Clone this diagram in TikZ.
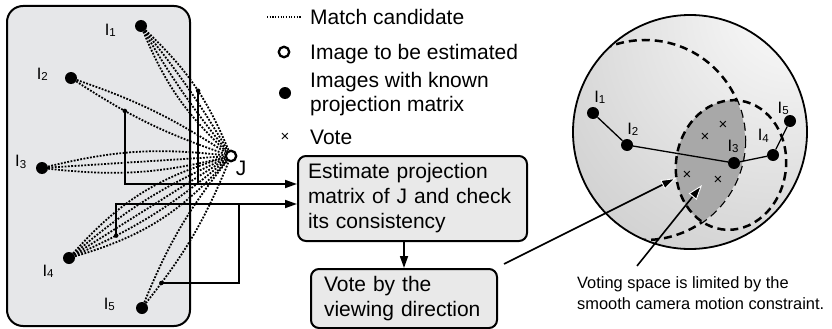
\documentclass[tikz,border=0pt]{standalone}
\usepackage{fontspec}
\setmainfont{Liberation Sans}
\usetikzlibrary{arrows.meta,calc,positioning}

\definecolor{panelgray}{RGB}{230,231,233}
\definecolor{boxgray}{RGB}{233,233,233}
\definecolor{lensgray}{RGB}{168,168,168}

% viewing sphere, lit from the upper right
\pgfdeclareradialshading{viewsphere}{\pgfpoint{26bp}{32bp}}{%
  color(0bp)=(white); color(16bp)=(black!6); color(40bp)=(black!15);
  color(65bp)=(black!24); color(92bp)=(black!34); color(100bp)=(black!37)}

% image name with its index
\newcommand\imgI[1]{I\raisebox{-1.2pt}{\fontsize{11.5}{11.5}\selectfont#1}}

\tikzset{
  txt/.style={font=\fontsize{21}{25}\selectfont, inner sep=0pt},
  lbl/.style={font=\fontsize{16.5}{18}\selectfont, inner sep=0pt},
  cam/.style={circle, fill=black, inner sep=0pt, minimum size=12pt},
  query/.style={circle, draw=black, line width=2.3pt, fill=white, inner sep=0pt, minimum size=10.5pt},
  tap/.style={circle, fill=black, inner sep=0pt, minimum size=4.5pt},
  vote/.style={font=\fontsize{15}{15}\selectfont, inner sep=0pt},
  cand/.style={line width=1.8pt, dash pattern=on 1.8pt off 1.5pt},
  link/.style={line width=1.7pt},
  flow/.style={link, -{Triangle[length=12pt,width=8pt]}},
  stepbox/.style={txt, draw, line width=2pt, fill=boxgray, rounded corners=8pt, align=left, anchor=north west},
  limit/.style={line width=2.5pt, dash pattern=on 8pt off 5pt},
  track/.style={line width=1.3pt},
  hit/.style={line width=1.6pt, -{Triangle[length=15pt,width=10pt,color=white,fill=black,line width=0.9pt]}},
}

\begin{document}
\begin{tikzpicture}[x=1pt,y=-1pt]
\useasboundingbox (0,0) rectangle (832,329);

% images in the database
\draw[line width=2pt, fill=panelgray, rounded corners=16pt] (7,6) rectangle (190,326);
\node[cam, label={[lbl,anchor=8,label distance=19pt]188:\imgI{1}}] (i1) at (141,26) {};
\node[cam, label={[lbl,anchor=-8,label distance=17pt]172:\imgI{2}}] (i2) at (71,78) {};
\node[cam, label={[lbl,anchor=-16,label distance=10pt]164:\imgI{3}}] (i3) at (42,168) {};
\node[cam, label={[lbl,anchor=33,label distance=12pt]213:\imgI{4}}] (i4) at (69,258) {};
\node[cam, label={[lbl,anchor=-7,label distance=21pt]173:\imgI{5}}] (i5) at (142,308) {};
\node[query, label={[txt,anchor=130,label distance=1pt]310:J}] (J) at (231,156) {};

% match candidates
\foreach \src/\b in {i1/4, i1/-4, i1/-12, i2/7, i3/10, i3/0, i3/-10, i4/16, i4/8, i4/0, i4/-16, i5/8}
  \draw[cand] (\src) to[bend left=\b] (J);
\draw[cand] (i1) to[bend left=12] coordinate[pos=.55] (k1) (J);
\draw[cand] (i2) to[bend right=7] coordinate[pos=.33] (k2) (J);
\draw[cand] (i4) to[bend right=8] coordinate[pos=.24] (k4) (J);
\draw[cand] (i5) to[bend right=8] coordinate[pos=.14] (k5) (J);
\foreach \k in {k1,k2,k4,k5}
  \node[tap] (t\k) at (\k) {};

% processing steps
\node[stepbox, text width=209pt, inner xsep=10pt, minimum height=85pt] (b1) at (297,155)
  {Estimate projection\\matrix of J and check\\its consistency};
\node[stepbox, text width=160pt, inner xsep=13pt, minimum height=59pt] (b2) at (310,268)
  {Vote by the\\viewing direction};

\coordinate (h1) at (0,184);
\coordinate (h2) at (0,204);
\coordinate (h3) at (239,0);
\draw[flow] (k2) |- (b1.west |- h1);
\draw[link] (k1) -- (k1 |- h1);
\draw[flow] (k4) |- (b1.west |- h2);
\draw[link] (k5) -| (h3 |- h2);
\draw[flow] (b2.north |- b1.south) -- (b2.north);

% legend
\coordinate (m0) at (267,17);
\coordinate (m1) at (302,17);
\draw[cand, line width=1.1pt, dash pattern=on 1.1pt off 1.6pt] (m0) -- (m1);
\node[query] (lq) at (284,52) {};
\node[cam] (lc) at (285,93) {};
\node[vote] (lv) at (285,137) {×};
\node[txt, anchor=base west] (l1) at (310,24.5) {Match candidate};
\node[txt, anchor=base west] (l2) at (310,59.5) {Image to be estimated};
\node[txt, anchor=west, align=left, font=\fontsize{21}{24}\selectfont] (l3) at (310,93.7)
  {Images with known\\projection matrix};
\node[txt, anchor=base west] (l4) at (310,144) {Vote};

% viewing sphere
\shade[shading=viewsphere] (690,132) circle[radius=117];
\begin{scope}
  \clip (690,132) circle[radius=117];
  \draw[limit] (645,140) circle[radius=100];
\end{scope}
\begin{scope}
  \clip (645,140) circle[radius=100];
  \fill[lensgray, rotate around={-8:(731,165)}] (731,165) ellipse[x radius=55, y radius=65];
\end{scope}
\draw[limit, rotate around={-8:(731,165)}] (731,165) ellipse[x radius=55, y radius=65];
\draw[line width=1.8pt] (690,132) circle[radius=117];

\node[cam, label={[lbl,anchor=247,label distance=4pt]67:\imgI{1}}] (s1) at (593,113) {};
\node[cam, label={[lbl,anchor=250,label distance=4pt]70:\imgI{2}}] (s2) at (627,145) {};
\node[cam, label={[lbl,anchor=273,label distance=4pt]93:\imgI{3}}] (s3) at (734,163) {};
\node[cam, label={[lbl,anchor=297,label distance=8pt]117:\imgI{4}}] (s4) at (773,155) {};
\node[cam, label={[lbl,anchor=298,label distance=1pt]118:\imgI{5}}] (s5) at (790,121) {};
\draw[track] (s1) -- (s2) -- (s3) -- (s4) -- (s5);
\foreach \p [count=\n] in {(723,125),(705,137),(687,175),(718,180)}
  \node[vote] (x\n) at \p {×};

\node[lbl, font=\fontsize{16.4}{21.7}\selectfont, anchor=west, align=left] (cap) at (577,293)
  {Voting space is limited by the\\smooth camera motion constraint.};

\coordinate (a1) at (676,178);
\coordinate (a2) at (702,185);
\draw[hit] ([shift={(6,-4)}]b2.north east) -- (a1);
\draw[hit] ([shift={(60,-10)}]cap.north west) -- (a2);
\end{tikzpicture}
\end{document}
